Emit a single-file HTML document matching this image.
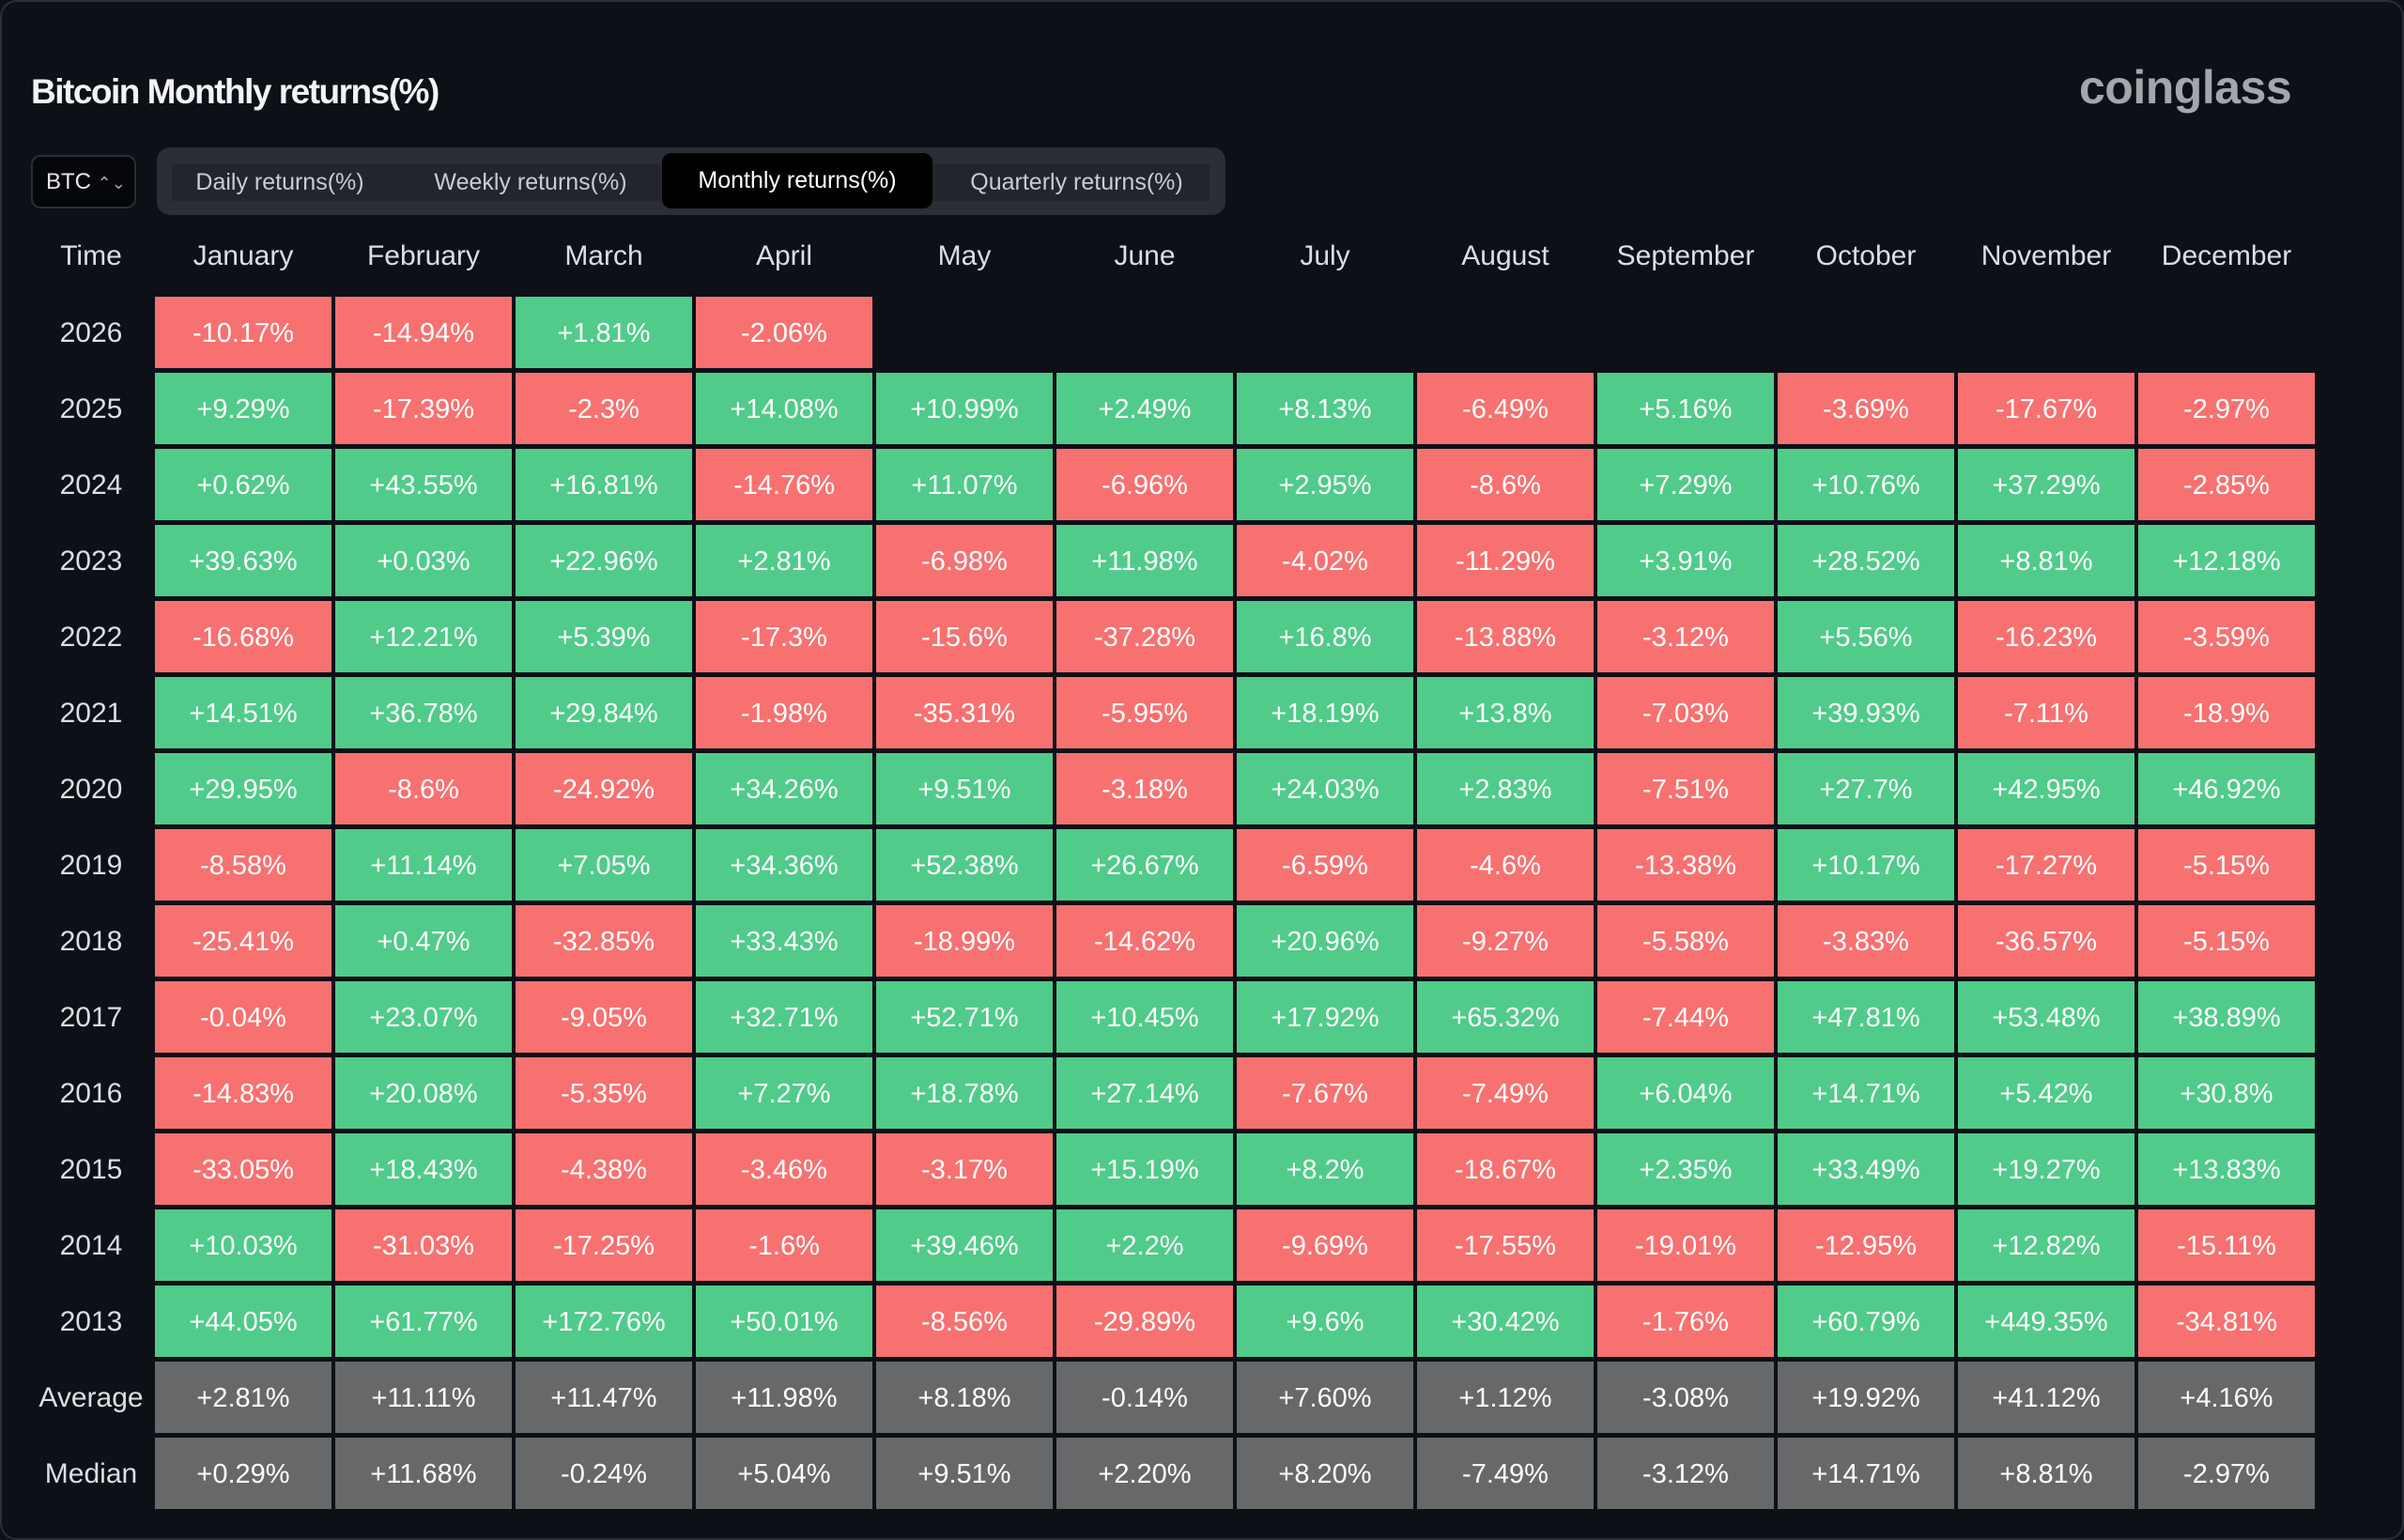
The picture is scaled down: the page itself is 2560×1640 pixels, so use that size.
<!DOCTYPE html>
<html><head><meta charset="utf-8"><style>
*{margin:0;padding:0;box-sizing:border-box}
body{width:2560px;height:1640px;background:#0d1017;font-family:"Liberation Sans",sans-serif;color:#e6e8ea;overflow:hidden;position:relative}
.frame{position:absolute;left:0;top:0;width:2560px;height:1640px;border:2px solid #2a2e35;border-radius:18px}
.title{position:absolute;left:33px;top:77px;font-size:37px;font-weight:bold;letter-spacing:-1.5px;color:#f2f4f5}
.logo{position:absolute;left:2214px;top:64px;font-size:50px;font-weight:bold;color:#a3a6ab;letter-spacing:-0.5px}
.btc{position:absolute;left:33px;top:165px;width:112px;height:57px;border:2px solid #2a2e35;border-radius:10px;background:#05070a;font-size:24px;line-height:53px;padding-left:14px;color:#e6e8ea}
.tabs{position:absolute;left:167px;top:157px;width:1138px;height:72px;background:#2a2e35;border-radius:14px}
.inner{position:absolute;left:183px;top:175px;width:1105px;height:39px;background:#22262c}
.tab{position:absolute;top:165px;height:59px;line-height:59px;font-size:25px;color:#c9ccd0;text-align:center}
.act{background:#000;border-radius:10px;color:#fff;top:163px}
.hdr{position:absolute;top:256px;height:44px;font-size:30px;text-align:center;color:#dcdfe2}
.row{position:absolute;left:0;height:76px;width:2560px}
.lab{position:absolute;left:33px;width:128px;text-align:center;font-size:30px;line-height:78px;color:#dcdfe2}
.c{position:absolute;width:188px;height:76px;line-height:78px;text-align:center;font-size:29px;color:#fff}
.r{background:#f77171}.g{background:#50cb8a}.a{background:#67686a}
.c:nth-of-type(2){left:165px}.c:nth-of-type(3){left:357px}.c:nth-of-type(4){left:549px}.c:nth-of-type(5){left:741px}
.c:nth-of-type(6){left:933px}.c:nth-of-type(7){left:1125px}.c:nth-of-type(8){left:1317px}.c:nth-of-type(9){left:1509px}
.c:nth-of-type(10){left:1701px}.c:nth-of-type(11){left:1893px}.c:nth-of-type(12){left:2085px}.c:nth-of-type(13){left:2277px}
</style></head><body>
<div class="frame"></div>
<div class="title">Bitcoin Monthly returns(%)</div>
<div class="logo">coinglass</div>
<div class="btc">BTC <span style="font-size:18px;color:#aaa">⌃⌄</span></div>
<div class="tabs"></div>
<div class="inner"></div>
<div class="tab" style="left:183px;width:230px">Daily returns(%)</div>
<div class="tab" style="left:440px;width:250px">Weekly returns(%)</div>
<div class="tab act" style="left:705px;width:288px">Monthly returns(%)</div>
<div class="tab" style="left:1005px;width:283px">Quarterly returns(%)</div>

<div class="hdr" style="left:33px;width:128px">Time</div>
<div class="hdr" style="left:165px;width:188px">January</div>
<div class="hdr" style="left:357px;width:188px">February</div>
<div class="hdr" style="left:549px;width:188px">March</div>
<div class="hdr" style="left:741px;width:188px">April</div>
<div class="hdr" style="left:933px;width:188px">May</div>
<div class="hdr" style="left:1125px;width:188px">June</div>
<div class="hdr" style="left:1317px;width:188px">July</div>
<div class="hdr" style="left:1509px;width:188px">August</div>
<div class="hdr" style="left:1701px;width:188px">September</div>
<div class="hdr" style="left:1893px;width:188px">October</div>
<div class="hdr" style="left:2085px;width:188px">November</div>
<div class="hdr" style="left:2277px;width:188px">December</div>

<div class="row" style="top:316px"><div class="lab">2026</div><div class="c r">-10.17%</div><div class="c r">-14.94%</div><div class="c g">+1.81%</div><div class="c r">-2.06%</div></div>
<div class="row" style="top:397px"><div class="lab">2025</div><div class="c g">+9.29%</div><div class="c r">-17.39%</div><div class="c r">-2.3%</div><div class="c g">+14.08%</div><div class="c g">+10.99%</div><div class="c g">+2.49%</div><div class="c g">+8.13%</div><div class="c r">-6.49%</div><div class="c g">+5.16%</div><div class="c r">-3.69%</div><div class="c r">-17.67%</div><div class="c r">-2.97%</div></div>
<div class="row" style="top:478px"><div class="lab">2024</div><div class="c g">+0.62%</div><div class="c g">+43.55%</div><div class="c g">+16.81%</div><div class="c r">-14.76%</div><div class="c g">+11.07%</div><div class="c r">-6.96%</div><div class="c g">+2.95%</div><div class="c r">-8.6%</div><div class="c g">+7.29%</div><div class="c g">+10.76%</div><div class="c g">+37.29%</div><div class="c r">-2.85%</div></div>
<div class="row" style="top:559px"><div class="lab">2023</div><div class="c g">+39.63%</div><div class="c g">+0.03%</div><div class="c g">+22.96%</div><div class="c g">+2.81%</div><div class="c r">-6.98%</div><div class="c g">+11.98%</div><div class="c r">-4.02%</div><div class="c r">-11.29%</div><div class="c g">+3.91%</div><div class="c g">+28.52%</div><div class="c g">+8.81%</div><div class="c g">+12.18%</div></div>
<div class="row" style="top:640px"><div class="lab">2022</div><div class="c r">-16.68%</div><div class="c g">+12.21%</div><div class="c g">+5.39%</div><div class="c r">-17.3%</div><div class="c r">-15.6%</div><div class="c r">-37.28%</div><div class="c g">+16.8%</div><div class="c r">-13.88%</div><div class="c r">-3.12%</div><div class="c g">+5.56%</div><div class="c r">-16.23%</div><div class="c r">-3.59%</div></div>
<div class="row" style="top:721px"><div class="lab">2021</div><div class="c g">+14.51%</div><div class="c g">+36.78%</div><div class="c g">+29.84%</div><div class="c r">-1.98%</div><div class="c r">-35.31%</div><div class="c r">-5.95%</div><div class="c g">+18.19%</div><div class="c g">+13.8%</div><div class="c r">-7.03%</div><div class="c g">+39.93%</div><div class="c r">-7.11%</div><div class="c r">-18.9%</div></div>
<div class="row" style="top:802px"><div class="lab">2020</div><div class="c g">+29.95%</div><div class="c r">-8.6%</div><div class="c r">-24.92%</div><div class="c g">+34.26%</div><div class="c g">+9.51%</div><div class="c r">-3.18%</div><div class="c g">+24.03%</div><div class="c g">+2.83%</div><div class="c r">-7.51%</div><div class="c g">+27.7%</div><div class="c g">+42.95%</div><div class="c g">+46.92%</div></div>
<div class="row" style="top:883px"><div class="lab">2019</div><div class="c r">-8.58%</div><div class="c g">+11.14%</div><div class="c g">+7.05%</div><div class="c g">+34.36%</div><div class="c g">+52.38%</div><div class="c g">+26.67%</div><div class="c r">-6.59%</div><div class="c r">-4.6%</div><div class="c r">-13.38%</div><div class="c g">+10.17%</div><div class="c r">-17.27%</div><div class="c r">-5.15%</div></div>
<div class="row" style="top:964px"><div class="lab">2018</div><div class="c r">-25.41%</div><div class="c g">+0.47%</div><div class="c r">-32.85%</div><div class="c g">+33.43%</div><div class="c r">-18.99%</div><div class="c r">-14.62%</div><div class="c g">+20.96%</div><div class="c r">-9.27%</div><div class="c r">-5.58%</div><div class="c r">-3.83%</div><div class="c r">-36.57%</div><div class="c r">-5.15%</div></div>
<div class="row" style="top:1045px"><div class="lab">2017</div><div class="c r">-0.04%</div><div class="c g">+23.07%</div><div class="c r">-9.05%</div><div class="c g">+32.71%</div><div class="c g">+52.71%</div><div class="c g">+10.45%</div><div class="c g">+17.92%</div><div class="c g">+65.32%</div><div class="c r">-7.44%</div><div class="c g">+47.81%</div><div class="c g">+53.48%</div><div class="c g">+38.89%</div></div>
<div class="row" style="top:1126px"><div class="lab">2016</div><div class="c r">-14.83%</div><div class="c g">+20.08%</div><div class="c r">-5.35%</div><div class="c g">+7.27%</div><div class="c g">+18.78%</div><div class="c g">+27.14%</div><div class="c r">-7.67%</div><div class="c r">-7.49%</div><div class="c g">+6.04%</div><div class="c g">+14.71%</div><div class="c g">+5.42%</div><div class="c g">+30.8%</div></div>
<div class="row" style="top:1207px"><div class="lab">2015</div><div class="c r">-33.05%</div><div class="c g">+18.43%</div><div class="c r">-4.38%</div><div class="c r">-3.46%</div><div class="c r">-3.17%</div><div class="c g">+15.19%</div><div class="c g">+8.2%</div><div class="c r">-18.67%</div><div class="c g">+2.35%</div><div class="c g">+33.49%</div><div class="c g">+19.27%</div><div class="c g">+13.83%</div></div>
<div class="row" style="top:1288px"><div class="lab">2014</div><div class="c g">+10.03%</div><div class="c r">-31.03%</div><div class="c r">-17.25%</div><div class="c r">-1.6%</div><div class="c g">+39.46%</div><div class="c g">+2.2%</div><div class="c r">-9.69%</div><div class="c r">-17.55%</div><div class="c r">-19.01%</div><div class="c r">-12.95%</div><div class="c g">+12.82%</div><div class="c r">-15.11%</div></div>
<div class="row" style="top:1369px"><div class="lab">2013</div><div class="c g">+44.05%</div><div class="c g">+61.77%</div><div class="c g">+172.76%</div><div class="c g">+50.01%</div><div class="c r">-8.56%</div><div class="c r">-29.89%</div><div class="c g">+9.6%</div><div class="c g">+30.42%</div><div class="c r">-1.76%</div><div class="c g">+60.79%</div><div class="c g">+449.35%</div><div class="c r">-34.81%</div></div>
<div class="row" style="top:1450px"><div class="lab">Average</div><div class="c a">+2.81%</div><div class="c a">+11.11%</div><div class="c a">+11.47%</div><div class="c a">+11.98%</div><div class="c a">+8.18%</div><div class="c a">-0.14%</div><div class="c a">+7.60%</div><div class="c a">+1.12%</div><div class="c a">-3.08%</div><div class="c a">+19.92%</div><div class="c a">+41.12%</div><div class="c a">+4.16%</div></div>
<div class="row" style="top:1531px"><div class="lab">Median</div><div class="c a">+0.29%</div><div class="c a">+11.68%</div><div class="c a">-0.24%</div><div class="c a">+5.04%</div><div class="c a">+9.51%</div><div class="c a">+2.20%</div><div class="c a">+8.20%</div><div class="c a">-7.49%</div><div class="c a">-3.12%</div><div class="c a">+14.71%</div><div class="c a">+8.81%</div><div class="c a">-2.97%</div></div>
</body></html>
